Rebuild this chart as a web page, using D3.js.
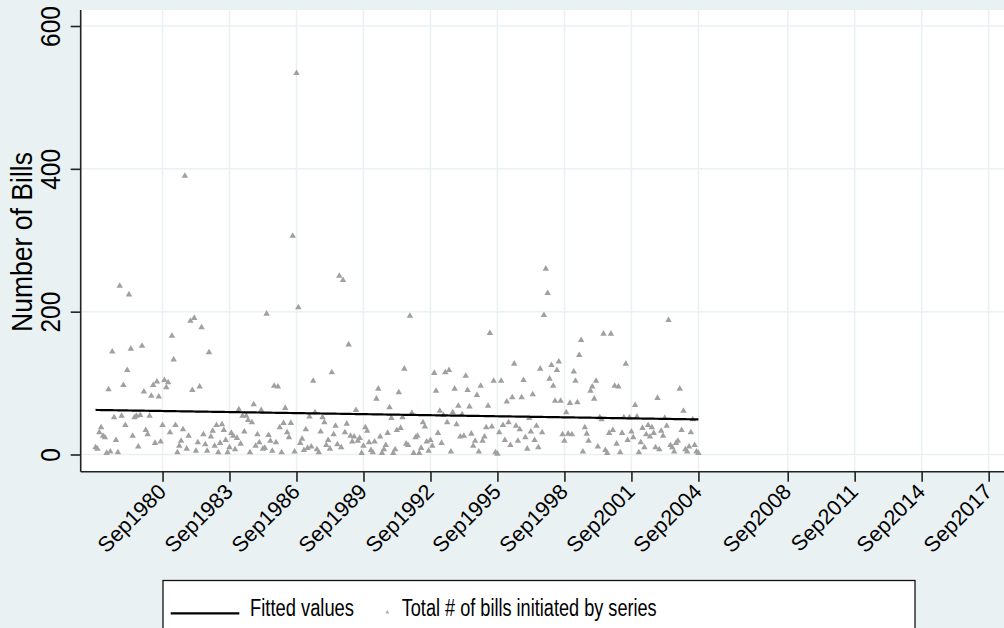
<!DOCTYPE html>
<html>
<head>
<meta charset="utf-8">
<script src="https://cdn.jsdelivr.net/npm/d3@7/dist/d3.min.js"></script>
<style>
  body { margin: 0; background: #eaf1f3; }
  text { font-family: "Liberation Sans", Arial, sans-serif; fill: #000; }
</style>
</head>
<body>
<div id="chart-area"></div>
<script>

// DATA: monthly bill counts, first month Sep 1977
var startYear = 1977, startMonth = 8;
var billCounts = [
  10, 8, 31, 38, 26, 24, 2, 91, 4, 144, 52, 20,
  3, 236, 54, 97, 41, 118, 224, 148, 26, 52, 54, 11,
  55, 152, 88, 34, 28, 54, 82, 97, 16, 102, 81, 18,
  41, 104, 94, 101, 31, 166, 133, 41, 3, 12, 19, 35,
  390, 8, 26, 187, 90, 191, 5, 17, 95, 178, 28, 14,
  5, 143, 25, 33, 12, 41, 3, 16, 42, 34, 20, 3,
  10, 30, 26, 7, 23, 63, 15, 54, 32, 54, 48, 3,
  45, 70, 12, 28, 17, 62, 8, 9, 197, 27, 19, 5,
  96, 17, 95, 38, 3, 44, 65, 31, 24, 44, 306, 4,
  534, 206, 16, 22, 6, 35, 9, 53, 11, 103, 59, 7,
  3, 32, 52, 45, 13, 20, 8, 115, 28, 40, 14, 250,
  10, 244, 31, 43, 154, 26, 18, 25, 62, 19, 23, 2,
  12, 38, 33, 17, 6, 3, 18, 78, 92, 25, 2, 7,
  13, 30, 66, 51, 2, 7, 34, 87, 37, 52, 120, 15,
  13, 194, 58, 2, 24, 26, 2, 9, 45, 39, 18, 5,
  20, 12, 114, 89, 30, 61, 16, 55, 115, 45, 118, 4,
  59, 92, 42, 68, 25, 56, 26, 110, 90, 67, 29, 12,
  19, 83, 4, 96, 19, 25, 38, 68, 170, 39, 103, 3,
  1, 31, 103, 41, 20, 74, 45, 13, 80, 127, 40, 19,
  35, 80, 104, 24, 8, 51, 32, 84, 20, 40, 10, 120,
  31, 195, 260, 226, 106, 125, 96, 75, 118, 130, 75, 28,
  19, 59, 29, 72, 28, 116, 103, 73, 139, 160, 4, 38,
  29, 19, 89, 95, 78, 103, 11, 52, 49, 169, 6, 2,
  30, 169, 34, 96, 15, 95, 3, 30, 52, 127, 20, 52,
  32, 24, 69, 53, 3, 17, 37, 10, 28, 41, 25, 38,
  30, 10, 79, 7, 33, 26, 51, 40, 188, 13, 10, 4,
  16, 19, 92, 34, 61, 7, 4, 11, 31, 49, 13, 4,
  2
];
var tickYears = [1980, 1983, 1986, 1989, 1992, 1995, 1998, 2001, 2004, 2008, 2011, 2014, 2017];
var yTicks = [0, 200, 400, 600];

var series = billCounts.map(function(v, i) {
    return {date: new Date(startYear, startMonth + i, 1), value: v};
});

// SVG drawing area
var W = 1004, H = 628;
var plot = {left: 80.7, right: 1004, top: 10, bottom: 471.7};

var svg = d3.select("#chart-area").append("svg")
    .attr("width", W)
    .attr("height", H);

svg.append("rect")
    .attr("width", W).attr("height", H)
    .attr("fill", "#eaf1f3");

svg.append("rect")
    .attr("x", plot.left).attr("y", plot.top)
    .attr("width", plot.right - plot.left)
    .attr("height", plot.bottom - plot.top)
    .attr("fill", "#fff");

//SCALES
var x = d3.scaleTime()
    .domain([new Date(1977, 0, 1), new Date(2018, 4, 10)])
    .range([plot.left, plot.right]);

var y = d3.scaleLinear()
    .domain([0, 600])
    .range([454.5, 26]);

var tickDates = tickYears.map(function(yr) { return new Date(yr, 8, 1); });

//GRID
svg.append("g").selectAll("line")
    .data(yTicks)
    .enter().append("line")
    .attr("x1", plot.left).attr("x2", plot.right)
    .attr("y1", function(d) { return y(d); })
    .attr("y2", function(d) { return y(d); })
    .attr("stroke", "#eaf1f3").attr("stroke-width", 1.5);

svg.append("g").selectAll("line")
    .data(tickDates)
    .enter().append("line")
    .attr("x1", function(d) { return x(d); })
    .attr("x2", function(d) { return x(d); })
    .attr("y1", plot.top).attr("y2", plot.bottom)
    .attr("stroke", "#eaf1f3").attr("stroke-width", 1.5);

//POINTS
svg.append("g").selectAll("path")
    .data(series)
    .enter().append("path")
    .attr("d", d3.symbol().type(d3.symbolTriangle).size(18))
    .attr("transform", function(d) { return "translate(" + x(d.date) + "," + y(d.value) + ")"; })
    .attr("fill", "#a0a0a0");

//FITTED LINE (OLS on month index)
var mx = d3.mean(series, function(d, i) { return i; });
var my = d3.mean(series, function(d) { return d.value; });
var sxy = d3.sum(series, function(d, i) { return (i - mx) * (d.value - my); });
var sxx = d3.sum(series, function(d, i) { return (i - mx) * (i - mx); });
var slope = sxy / sxx, intercept = my - slope * mx;
var fitted = series.map(function(d, i) { return {date: d.date, value: intercept + slope * i}; });

var drawLine = d3.line()
    .x(function(d) { return x(d.date); })
    .y(function(d) { return y(d.value); });

svg.append("path")
    .attr("d", drawLine(fitted))
    .attr("fill", "none")
    .attr("stroke", "#000")
    .attr("stroke-width", 2.2);

//AXES
var yAxis = svg.append("g")
    .attr("transform", "translate(" + plot.left + ",0)")
    .call(d3.axisLeft(y).tickValues(yTicks).tickSize(10).tickSizeOuter(0));
yAxis.select(".domain").attr("d", "M0," + plot.top + "V" + plot.bottom);
yAxis.selectAll("text")
    .attr("x", 0).attr("dy", 0)
    .attr("transform", "translate(-20.5,0) rotate(-90)")
    .style("text-anchor", "middle")
    .style("font-size", "28px")
    .attr("textLength", function(d) { return String(d).length * 13.6; })
    .attr("lengthAdjust", "spacingAndGlyphs");

var xAxis = svg.append("g")
    .attr("transform", "translate(0," + plot.bottom + ")")
    .call(d3.axisBottom(x).tickValues(tickDates).tickSize(10).tickSizeOuter(0)
        .tickFormat(d3.timeFormat("%b%Y")));
xAxis.select(".domain").attr("d", "M" + plot.left + ",0H" + plot.right);
xAxis.selectAll("text")
    .attr("x", 0).attr("y", 0).attr("dy", "0.35em")
    .attr("transform", "translate(-1,16) rotate(-45)")
    .style("text-anchor", "end")
    .style("font-size", "21.5px");

svg.selectAll(".domain").attr("stroke", "#222").attr("stroke-width", 1.6);
svg.selectAll(".tick line").attr("stroke", "#222").attr("stroke-width", 1.6);

svg.append("text")
    .attr("transform", "translate(31.5,242) rotate(-90)")
    .style("text-anchor", "middle")
    .style("font-size", "29px")
    .attr("textLength", 180)
    .attr("lengthAdjust", "spacingAndGlyphs")
    .text("Number of Bills");

//LEGEND
var legend = svg.append("g");
legend.append("rect")
    .attr("x", 163).attr("y", 580.5)
    .attr("width", 752).attr("height", 70)
    .attr("fill", "#fff").attr("stroke", "#111").attr("stroke-width", 1.3);
legend.append("line")
    .attr("x1", 170.7).attr("x2", 239.3)
    .attr("y1", 613.3).attr("y2", 613.3)
    .attr("stroke", "#000").attr("stroke-width", 2.2);
legend.append("text")
    .attr("x", 250).attr("y", 616)
    .style("font-size", "23px")
    .attr("textLength", 104)
    .attr("lengthAdjust", "spacingAndGlyphs")
    .text("Fitted values");
legend.append("path")
    .attr("d", d3.symbol().type(d3.symbolTriangle).size(7))
    .attr("transform", "translate(387.3,612.3)")
    .attr("fill", "#b0b0b0");
legend.append("text")
    .attr("x", 401.7).attr("y", 616)
    .style("font-size", "23px")
    .attr("textLength", 255)
    .attr("lengthAdjust", "spacingAndGlyphs")
    .text("Total # of bills initiated by series");

</script>
</body>
</html>
